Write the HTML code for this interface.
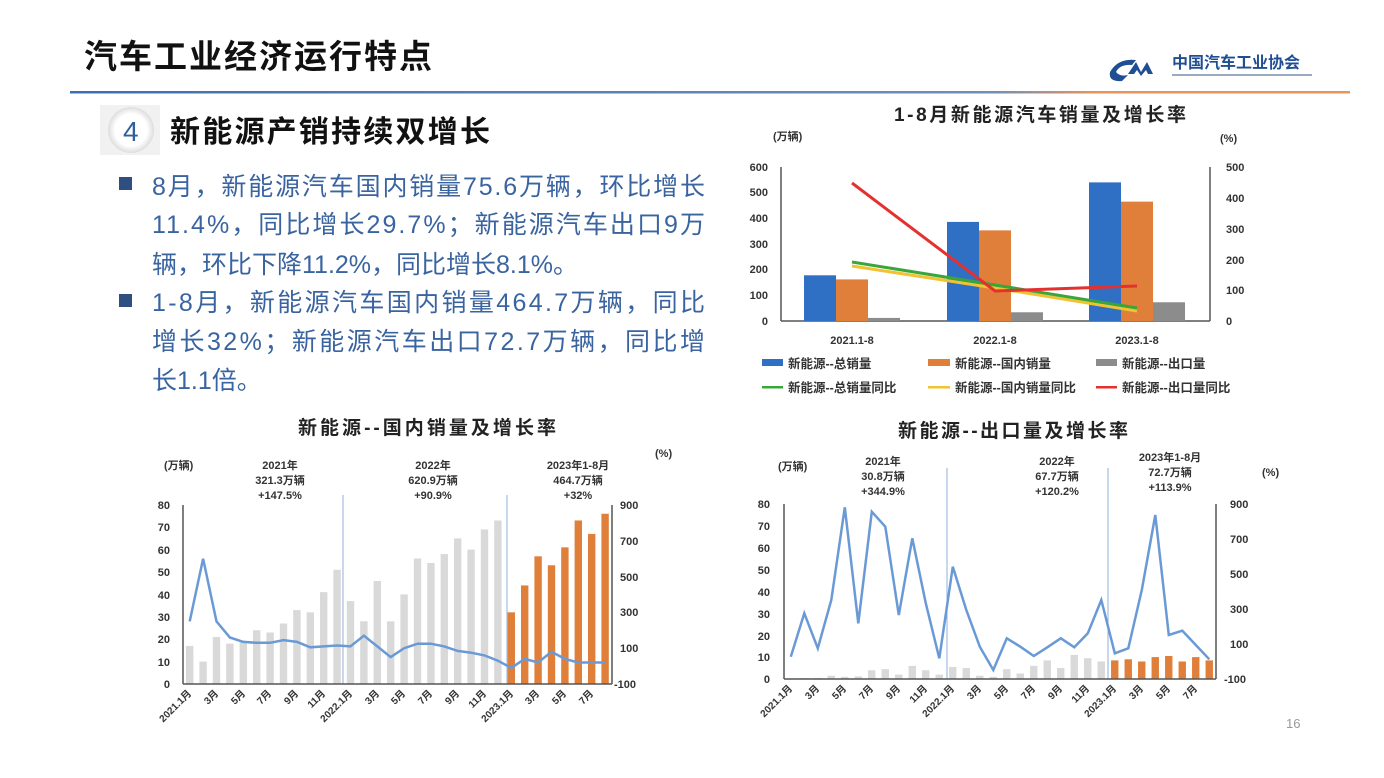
<!DOCTYPE html>
<html><head><meta charset="utf-8"><style>
body{margin:0;background:#fff;}
svg{display:block;font-family:"Liberation Sans","Noto Sans CJK SC",sans-serif;}
.b{font-weight:bold}
</style></head><body>
<svg id="s" width="1384" height="778" viewBox="0 0 1384 778" xmlns="http://www.w3.org/2000/svg">
<defs>
<linearGradient id="hl" x1="0" x2="1"><stop offset="0" stop-color="#3f6fb0"/><stop offset="0.72" stop-color="#6f8fb8"/><stop offset="0.8" stop-color="#e8935a"/><stop offset="1" stop-color="#e8935a"/></linearGradient>
<radialGradient id="cg"><stop offset="0.7" stop-color="#fff"/><stop offset="1" stop-color="#ddd"/></radialGradient>
</defs>
<text x="84" y="68" font-size="33" class="b" fill="#111" textLength="348">汽车工业经济运行特点</text>
<rect x="70" y="91" width="1280" height="2.5" fill="url(#hl)"/>
<!-- logo -->
<path d="M1110 72 q8 -14 26 -12 l-4 5 q-12 -1 -16 7 q4 5 12 3 l-6 6 q-14 1 -12 -9z" fill="#1f4e93"/>
<path d="M1128 74 l8 -12 l5 10 l6 -10 l6 12 h-5 l-2 -4 l-5 6 l-4 -6 l-3 4z" fill="#1f4e93"/>
<text x="1172" y="68" font-size="16" class="b" fill="#1f4e93">中国汽车工业协会</text>
<rect x="1172" y="74" width="140" height="2" fill="#9aa9c4"/>
<!-- section head -->
<rect x="100" y="105" width="60" height="50" fill="#f1f1f1"/>
<circle cx="131" cy="130" r="23" fill="url(#cg)"/>
<text x="123" y="141" font-size="28" fill="#2e5f9f">4</text>
<text x="170" y="142" font-size="30" class="b" fill="#111" textLength="320">新能源产销持续双增长</text>
<g font-size="25" fill="#3a64a0">
<rect x="119" y="177" width="13" height="13" fill="#2e4f80"/>
<text x="152" y="195" textLength="553">8月，新能源汽车国内销量75.6万辆，环比增长</text>
<text x="152" y="233" textLength="553">11.4%，同比增长29.7%；新能源汽车出口9万</text>
<text x="152" y="273">辆，环比下降11.2%，同比增长8.1%。</text>
<rect x="119" y="294" width="13" height="13" fill="#2e4f80"/>
<text x="152" y="311" textLength="553">1-8月，新能源汽车国内销量464.7万辆，同比</text>
<text x="152" y="350" textLength="553">增长32%；新能源汽车出口72.7万辆，同比增</text>
<text x="152" y="389">长1.1倍。</text>
</g>
<!-- top-right chart -->
<text x="1040" y="121" font-size="19" class="b" text-anchor="middle" fill="#222" textLength="292">1-8月新能源汽车销量及增长率</text>
<g font-size="11" class="b" fill="#333">
<text x="773" y="140">(万辆)</text><text x="1220" y="142">(%)</text>
<g text-anchor="end"><text x="768" y="171">600</text><text x="768" y="196">500</text><text x="768" y="222">400</text><text x="768" y="248">300</text><text x="768" y="273">200</text><text x="768" y="299">100</text><text x="768" y="325">0</text></g>
<text x="1226" y="171">500</text><text x="1226" y="202">400</text><text x="1226" y="233">300</text><text x="1226" y="264">200</text><text x="1226" y="294">100</text><text x="1226" y="325">0</text>
<g text-anchor="middle"><text x="852" y="344">2021.1-8</text><text x="995" y="344">2022.1-8</text><text x="1137" y="344">2023.1-8</text></g>
<g font-size="12.5">
<text x="788" y="368">新能源--总销量</text><text x="955" y="368">新能源--国内销量</text><text x="1122" y="368">新能源--出口量</text>
<text x="788" y="392">新能源--总销量同比</text><text x="955" y="392">新能源--国内销量同比</text><text x="1122" y="392">新能源--出口量同比</text>
</g></g>
<rect x="762" y="359" width="21" height="7" fill="#2f6fc4"/><rect x="928" y="359" width="22" height="7" fill="#e07f3a"/><rect x="1096" y="359" width="21" height="7" fill="#8c8c8c"/>
<rect x="762" y="386" width="21" height="2.5" fill="#3aa63a"/><rect x="928" y="386" width="22" height="2.5" fill="#f1c232"/><rect x="1096" y="386" width="21" height="2.5" fill="#e53030"/>
<g id="tr"></g>
<!-- bottom-left chart -->
<text x="427" y="434" font-size="19" class="b" text-anchor="middle" fill="#222" textLength="258">新能源--国内销量及增长率</text>
<g font-size="11" class="b" fill="#333">
<text x="164" y="469">(万辆)</text><text x="655" y="457">(%)</text>
<g text-anchor="middle"><text x="280" y="469">2021年</text><text x="280" y="484">321.3万辆</text><text x="280" y="499">+147.5%</text>
<text x="433" y="469">2022年</text><text x="433" y="484">620.9万辆</text><text x="433" y="499">+90.9%</text>
<text x="578" y="469">2023年1-8月</text><text x="578" y="484">464.7万辆</text><text x="578" y="499">+32%</text></g>
<g text-anchor="end"><text x="170" y="509">80</text><text x="170" y="531">70</text><text x="170" y="554">60</text><text x="170" y="576">50</text><text x="170" y="599">40</text><text x="170" y="621">30</text><text x="170" y="643">20</text><text x="170" y="666">10</text><text x="170" y="688">0</text></g>
<text x="620" y="509">900</text><text x="620" y="545">700</text><text x="620" y="581">500</text><text x="620" y="616">300</text><text x="620" y="652">100</text><text x="614" y="688">-100</text>
<g text-anchor="end" font-size="10">
<text transform="translate(192,694) rotate(-45)">2021.1月</text><text transform="translate(219,694) rotate(-45)">3月</text><text transform="translate(246,694) rotate(-45)">5月</text><text transform="translate(272,694) rotate(-45)">7月</text><text transform="translate(299,694) rotate(-45)">9月</text><text transform="translate(326,694) rotate(-45)">11月</text><text transform="translate(353,694) rotate(-45)">2022.1月</text><text transform="translate(380,694) rotate(-45)">3月</text><text transform="translate(406,694) rotate(-45)">5月</text><text transform="translate(433,694) rotate(-45)">7月</text><text transform="translate(460,694) rotate(-45)">9月</text><text transform="translate(487,694) rotate(-45)">11月</text><text transform="translate(514,694) rotate(-45)">2023.1月</text><text transform="translate(540,694) rotate(-45)">3月</text><text transform="translate(567,694) rotate(-45)">5月</text><text transform="translate(594,694) rotate(-45)">7月</text>
</g></g>
<g id="bl"></g>
<!-- bottom-right chart -->
<text x="1013" y="437" font-size="19" class="b" text-anchor="middle" fill="#222" textLength="230">新能源--出口量及增长率</text>
<g font-size="11" class="b" fill="#333">
<text x="778" y="470">(万辆)</text><text x="1262" y="476">(%)</text>
<g text-anchor="middle"><text x="883" y="465">2021年</text><text x="883" y="480">30.8万辆</text><text x="883" y="495">+344.9%</text>
<text x="1057" y="465">2022年</text><text x="1057" y="480">67.7万辆</text><text x="1057" y="495">+120.2%</text>
<text x="1170" y="461">2023年1-8月</text><text x="1170" y="476">72.7万辆</text><text x="1170" y="491">+113.9%</text></g>
<g text-anchor="end"><text x="770" y="508">80</text><text x="770" y="530">70</text><text x="770" y="552">60</text><text x="770" y="574">50</text><text x="770" y="596">40</text><text x="770" y="618">30</text><text x="770" y="640">20</text><text x="770" y="661">10</text><text x="770" y="683">0</text></g>
<text x="1230" y="508">900</text><text x="1230" y="543">700</text><text x="1230" y="578">500</text><text x="1230" y="613">300</text><text x="1230" y="648">100</text><text x="1224" y="683">-100</text>
<g text-anchor="end" font-size="10">
<text transform="translate(793,689) rotate(-45)">2021.1月</text><text transform="translate(820,689) rotate(-45)">3月</text><text transform="translate(847,689) rotate(-45)">5月</text><text transform="translate(874,689) rotate(-45)">7月</text><text transform="translate(901,689) rotate(-45)">9月</text><text transform="translate(928,689) rotate(-45)">11月</text><text transform="translate(955,689) rotate(-45)">2022.1月</text><text transform="translate(982,689) rotate(-45)">3月</text><text transform="translate(1009,689) rotate(-45)">5月</text><text transform="translate(1036,689) rotate(-45)">7月</text><text transform="translate(1063,689) rotate(-45)">9月</text><text transform="translate(1090,689) rotate(-45)">11月</text><text transform="translate(1117,689) rotate(-45)">2023.1月</text><text transform="translate(1144,689) rotate(-45)">3月</text><text transform="translate(1171,689) rotate(-45)">5月</text><text transform="translate(1198,689) rotate(-45)">7月</text>
</g></g>
<g id="br"></g>
<text x="1286" y="728" font-size="13" fill="#999">16</text>
</svg>
<script>
var NS="http://www.w3.org/2000/svg";
function el(p,t,a){var e=document.createElementNS(NS,t);for(var k in a)e.setAttribute(k,a[k]);p.appendChild(e);return e;}
var g=document.getElementById('tr');
el(g,'line',{x1:781,y1:167,x2:781,y2:321,stroke:'#555','stroke-width':1.5});
el(g,'line',{x1:1210,y1:167,x2:1210,y2:321,stroke:'#555','stroke-width':1.5});
el(g,'line',{x1:781,y1:321,x2:1210,y2:321,stroke:'#555','stroke-width':1.5});
var cx=[852,995,1137],V=[[178,162,12],[386,353,34],[540,465,73]],C=['#2f6fc4','#e07f3a','#8c8c8c'];
for(var i=0;i<3;i++)for(var j=0;j<3;j++){var h=V[i][j]*0.2567;el(g,'rect',{x:cx[i]-48+j*32,y:321-h,width:32,height:h,fill:C[j]});}
el(g,'polyline',{points:'852,266 995,288 1137,311',fill:'none',stroke:'#f1c232','stroke-width':3});
el(g,'polyline',{points:'852,262 995,285 1137,308',fill:'none',stroke:'#3aa63a','stroke-width':3});
el(g,'polyline',{points:'852,183 995,291 1137,286',fill:'none',stroke:'#e53030','stroke-width':3});
g=document.getElementById('bl');
var L=183,B=684,W=13.4;
var bars=[17,10,21,18,19,24,23,27,33,32,41,51,37,28,46,28,40,56,54,58,65,60,69,73,32,44,57,53,61,73,67,76];
bars.forEach(function(v,i){var h=v*2.24;el(g,'rect',{x:L+W*(i+0.5)-3.7,y:B-h,width:7.4,height:h,fill:i<24?'#d9d9d9':'#e07f3a'});});
el(g,'line',{x1:343,y1:495,x2:343,y2:684,stroke:'#8fb0dd','stroke-width':1});
el(g,'line',{x1:507,y1:495,x2:507,y2:684,stroke:'#8fb0dd','stroke-width':1});
el(g,'line',{x1:L,y1:505,x2:L,y2:B,stroke:'#555','stroke-width':1.5});
el(g,'line',{x1:612,y1:505,x2:612,y2:B,stroke:'#555','stroke-width':1.5});
el(g,'line',{x1:L,y1:B,x2:612,y2:B,stroke:'#555','stroke-width':1.5});
var ln=[250,600,250,160,135,130,130,145,135,105,110,115,110,170,110,50,100,125,125,110,85,75,60,30,-10,40,20,80,40,20,20,20];
el(g,'polyline',{points:ln.map(function(v,i){return (L+W*(i+0.5)).toFixed(1)+','+(B-(v+100)*0.179).toFixed(1);}).join(' '),fill:'none',stroke:'#6a9ad6','stroke-width':2.5});
g=document.getElementById('br');
L=784;B=679;W=13.5;
bars=[0.3,0.4,0.5,1.5,1,1.2,4,4.5,2,6,4,2,5.5,5,1.5,1,4.5,2.5,6,8.5,5,11,9.5,8,8.5,9,8,10,10.5,8,10,8.5];
bars.forEach(function(v,i){var h=v*2.19;el(g,'rect',{x:L+W*(i+0.5)-3.7,y:B-h,width:7.4,height:h,fill:i<24?'#d9d9d9':'#e07f3a'});});
el(g,'line',{x1:947,y1:468,x2:947,y2:B,stroke:'#8fb0dd','stroke-width':1});
el(g,'line',{x1:1108,y1:468,x2:1108,y2:B,stroke:'#8fb0dd','stroke-width':1});
el(g,'line',{x1:L,y1:504,x2:L,y2:B,stroke:'#555','stroke-width':1.5});
el(g,'line',{x1:1216,y1:504,x2:1216,y2:B,stroke:'#555','stroke-width':1.5});
el(g,'line',{x1:L,y1:B,x2:1216,y2:B,stroke:'#555','stroke-width':1.5});
var yz=[740,610,715,570,292,640,305,350,615,385,580,745,470,600,710,780,685,710,738,712,685,712,670,570,730,715,540,315,675,662,705,748];
el(g,'polyline',{points:yz.map(function(v,i){return (L+W*(i+0.5)).toFixed(1)+','+(410+v/3).toFixed(1);}).join(' '),fill:'none',stroke:'#6a9ad6','stroke-width':2.5});
</script>
</body></html>
